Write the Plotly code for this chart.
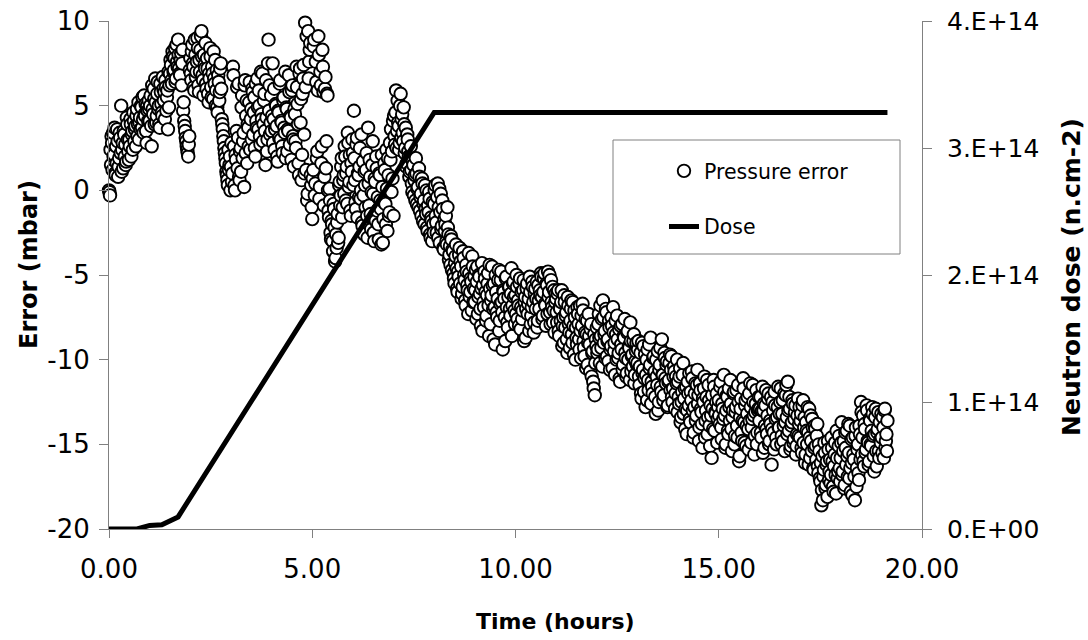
import plotly.graph_objects as go

FONT = "DejaVu Sans"

# ---- Pressure error (mbar): series A sampled at h + i*0.025 h ----
err_h00 = [0.0, -0.3, 1.5, 2.8, 3.4, 2.1, 1.0, 2.6, 3.6, 0.8, 1.9, 3.1, 5.0, 2.4, 1.3, 3.3, 2.7, 1.7, 3.9, 2.3,
           3.0, 4.2, 2.0, 3.5, 4.6, 2.9, 3.8, 4.4, 3.2, 5.2, 4.0, 3.6, 4.9, 5.5, 3.4, 4.5, 5.1, 2.8, 4.7, 5.3]
err_h01 = [4.1, 5.6, 2.6, 4.8, 6.0, 3.9, 5.2, 4.4, 6.4, 5.0, 3.7, 5.8, 4.6, 6.7, 5.3, 4.2, 6.1, 5.5, 3.6, 4.9,
           6.9, 7.4, 6.3, 7.9, 7.1, 8.4, 6.6, 7.6, 8.9, 7.2, 6.8, 8.1, 7.5, 4.7, 4.1, 3.5, 2.9, 2.4, 2.0, 3.2]
err_h02 = [7.8, 6.5, 8.6, 7.3, 5.9, 8.0, 7.0, 9.0, 6.2, 7.7, 8.3, 9.4, 6.8, 5.6, 7.4, 8.7, 6.0, 7.2, 5.2, 6.6,
           7.9, 5.5, 6.9, 8.2, 6.3, 5.0, 7.1, 4.6, 6.4, 5.8, 7.5, 4.2, 3.6, 2.9, 2.2, 1.6, 0.9, 0.3, 1.2, 2.0]
err_h03 = [1.4, 0.5, 7.3, 2.6, 0.0, 1.8, 6.1, 3.1, 0.8, 2.3, 1.1, 5.6, 2.9, 0.2, 6.5, 4.4, 1.6, 3.7, 5.2, 2.4,
           4.8, 6.0, 3.3, 5.5, 2.0, 4.1, 6.6, 3.6, 5.0, 2.7, 4.5, 6.9, 3.9, 5.7, 1.5, 4.3, 3.0, 8.9, 6.2, 4.0]
err_h04 = [3.5, 7.5, 4.2, 2.4, 5.1, 3.8, 1.7, 4.6, 6.3, 3.0, 4.0, 2.2, 5.5, 3.4, 1.9, 4.8, 3.6, 6.8, 2.7, 4.3,
           5.9, 3.2, 1.4, 4.5, 2.5, 6.1, 3.9, 0.9, 7.2, 5.4, 2.1, 6.6, 3.3, 9.9, 1.2, -0.6, 9.4, 7.6, 8.7, 0.3]
err_h05 = [-1.7, 1.2, 8.9, 0.4, 6.4, 2.3, 9.1, -0.5, 7.0, 1.6, 8.3, 5.8, 0.8, 6.7, 2.9, 5.6, -1.2, 0.1, -2.5, -1.8,
           -3.0, -0.8, -2.2, -4.0, -3.4, -1.4, -2.8, 0.5, -0.3, 1.9, -1.0, 0.9, 2.6, -0.6, 1.4, 3.4, 0.2, 2.1, -1.5, 1.1]
err_h06 = [2.2, 4.7, 0.6, -1.1, 3.1, 1.0, -0.4, 2.5, 0.0, -1.9, 1.7, -2.6, 0.3, 1.2, -1.5, 3.7, -0.9, 0.8, -2.3, 1.5,
           -0.2, -3.0, 0.5, 2.0, -1.2, -2.0, 1.0, -0.6, -3.2, 0.2, -1.7, 1.6, -0.8, 2.4, -2.4, 0.9, -1.3, 1.8, -0.1, 0.7]
err_h07 = [-1.5, 3.2, 4.6, 2.5, 5.3, 3.8, 2.8, 5.7, 4.2, 3.4, 4.9, 2.2, 3.7, 1.6, 3.0, 2.0, 1.1, 2.6, 0.4, 1.7,
           -0.3, 0.9, 1.9, -0.8, 0.2, 1.3, -1.2, -0.2, 0.7, -1.8, -0.6, 0.3, -1.4, -2.2, -0.9, -0.1, -2.6, -1.6, -3.0, -2.0]
err_h08 = [-0.8, 0.3, -1.9, -0.4, -2.8, 0.1, -1.3, -2.3, -0.6, -3.4, -1.7, -2.0, -3.0, -1.0, -2.6, -3.8, -4.4, -2.9, -3.5, -4.9,
           -5.5, -3.9, -4.6, -6.0, -5.1, -3.4, -4.2, -6.4, -5.7, -4.0, -5.3, -6.8, -4.8, -5.9, -3.7, -6.3, -5.2, -7.1, -4.5, -5.8]
err_h09 = [-6.6, -4.7, -5.4, -7.3, -5.0, -6.1, -8.0, -4.3, -5.6, -6.9, -5.2, -7.7, -6.2, -4.9, -8.6, -5.8, -6.5, -4.5, -7.0, -5.5,
           -9.1, -6.0, -7.5, -5.3, -8.3, -6.7, -4.8, -7.2, -5.9, -6.4, -8.9, -5.1, -7.8, -6.3, -5.7, -7.4, -4.6, -6.8, -5.4, -7.1]
err_h10 = [-6.2, -5.0, -7.6, -6.8, -5.5, -8.2, -6.0, -7.1, -5.3, -6.6, -8.7, -5.8, -7.3, -6.4, -5.1, -7.9, -6.9, -5.7, -8.4, -6.1,
           -7.0, -5.4, -7.7, -6.5, -5.9, -4.9, -6.3, -7.4, -5.2, -6.7, -8.0, -5.6, -4.8, -6.0, -7.2, -5.3, -6.9, -7.8, -5.9, -6.6]
err_h11 = [-6.4, -7.8, -5.9, -8.6, -7.0, -6.6, -9.2, -7.5, -6.2, -8.1, -7.2, -9.6, -6.8, -8.4, -7.7, -6.5, -9.0, -8.0, -7.1, -10.0,
           -8.7, -6.9, -7.9, -9.4, -8.3, -7.4, -6.7, -8.9, -9.8, -7.6, -8.5, -10.3, -7.3, -9.1, -8.2, -11.0, -9.5, -11.7, -12.1, -8.8]
err_h12 = [-8.1, -9.4, -7.3, -10.2, -8.6, -7.6, -6.5, -9.0, -8.3, -7.0, -9.8, -8.8, -7.7, -10.6, -9.2, -8.0, -6.9, -9.5, -10.9, -8.5,
           -7.4, -9.9, -8.2, -11.3, -9.1, -7.9, -10.3, -8.7, -9.6, -11.0, -8.4, -10.0, -9.3, -7.8, -10.7, -9.7, -8.9, -11.4, -10.1, -9.0]
err_h13 = [-10.2, -8.9, -11.5, -9.6, -12.3, -10.8, -9.2, -11.1, -12.8, -10.0, -9.4, -11.8, -10.5, -8.7, -11.3, -12.0, -9.8, -10.7, -13.2, -11.0,
           -9.5, -12.5, -10.3, -11.6, -8.8, -10.9, -12.1, -9.9, -11.4, -10.1, -12.7, -11.2, -9.7, -10.6, -12.2, -11.7, -10.4, -12.9, -11.0, -10.0]
err_h14 = [-11.3, -12.6, -10.5, -13.4, -11.9, -10.2, -12.3, -14.1, -11.6, -13.0, -12.0, -10.8, -13.7, -12.4, -11.1, -14.6, -12.8, -11.4, -13.3, -10.6,
           -12.1, -14.0, -11.8, -13.1, -15.2, -12.5, -11.0, -13.6, -12.2, -14.4, -11.5, -13.9, -12.7, -15.8, -12.9, -11.2, -14.2, -13.2, -12.0, -13.5]
err_h15 = [-12.4, -13.8, -11.3, -14.7, -12.9, -10.9, -13.3, -15.0, -12.1, -14.2, -11.7, -13.6, -12.6, -15.4, -13.0, -11.9, -14.5, -12.8, -13.9, -11.5,
           -16.0, -13.4, -12.3, -14.8, -11.1, -13.7, -12.7, -15.1, -13.2, -14.1, -12.0, -11.4, -14.9, -13.5, -12.5, -15.6, -13.1, -11.8, -14.3, -12.9]
err_h16 = [-13.6, -12.2, -14.6, -11.6, -13.0, -15.2, -12.7, -14.1, -13.3, -12.0, -14.8, -13.8, -16.2, -12.5, -14.3, -11.9, -13.5, -15.0, -12.8, -14.0,
           -13.2, -11.7, -14.5, -12.4, -13.9, -15.4, -12.1, -13.4, -11.3, -14.2, -12.9, -15.1, -13.7, -12.6, -14.7, -13.1, -15.6, -14.4, -12.3, -13.8]
err_h17 = [-14.6, -13.2, -15.5, -12.4, -14.0, -16.1, -13.7, -15.0, -14.3, -12.9, -15.8, -14.8, -13.5, -16.4, -15.2, -14.1, -15.9, -13.8, -16.7, -15.4,
           -17.2, -18.6, -15.7, -16.9, -14.9, -17.6, -16.2, -18.1, -15.3, -16.6, -17.3, -14.6, -16.0, -17.8, -15.6, -16.8, -14.2, -17.0, -15.1, -16.4]
err_h18 = [-15.8, -13.7, -16.6, -14.8, -17.4, -15.2, -14.2, -16.9, -15.5, -13.9, -17.8, -16.1, -14.6, -15.9, -18.3, -14.0, -16.4, -15.0, -17.1, -14.4,
           -12.5, -15.6, -13.3, -16.3, -14.1, -15.3, -13.0, -14.9, -16.0, -13.6, -15.1, -12.8, -14.5, -16.6, -13.4, -15.4, -14.3, -13.1, -15.8, -14.7]
err_h19 = [-13.2, -15.5, -14.0, -13.0, -15.2, -14.4, -13.6]

# ---- Pressure error (mbar): series B, the in-between samples at h + 0.0125 + i*0.025 h ----
errb_h00 = [-0.1, 2.4, 3.2, 1.2, 2.0, 3.7, 0.9, 1.6, 2.9, 1.4, 3.4, 2.2, 1.1, 2.8, 3.5, 2.0, 1.5, 4.3, 3.0, 1.8,
            2.6, 3.9, 3.3, 2.4, 4.1, 3.6, 2.6, 4.8, 3.9, 3.0, 4.3, 5.0, 3.7, 4.2, 5.6, 4.4, 3.5, 5.0, 4.1, 4.8]
errb_h01 = [5.0, 3.8, 6.2, 4.5, 5.4, 6.6, 4.0, 5.7, 4.8, 3.9, 6.3, 5.1, 4.4, 6.0, 5.8, 6.5, 4.7, 5.9, 7.0, 6.2,
            7.7, 6.5, 8.2, 7.0, 7.8, 6.4, 8.6, 7.3, 8.0, 6.9, 7.7, 6.2, 8.3, 5.2, 3.8, 3.1, 2.6, 2.2, 2.7, 7.1]
errb_h02 = [6.9, 8.2, 7.5, 6.1, 8.9, 6.7, 7.6, 8.4, 5.8, 7.0, 9.1, 7.9, 6.5, 8.0, 7.2, 6.3, 7.8, 5.7, 6.9, 8.4,
            6.1, 7.3, 5.4, 6.6, 7.7, 5.9, 4.9, 6.8, 5.3, 7.2, 6.0, 3.9, 3.2, 2.5, 1.9, 1.1, 0.6, 2.4, 1.5, 0.0]
errb_h03 = [2.8, 1.0, 6.8, 0.3, 2.1, 3.5, 1.3, 6.3, 0.6, 2.5, 4.9, 1.9, 3.4, 6.2, 2.2, 5.3, 3.9, 2.6, 6.4, 4.2,
            3.0, 5.8, 4.6, 2.5, 6.3, 3.7, 4.9, 5.9, 3.2, 7.0, 4.2, 2.9, 5.3, 3.5, 6.5, 2.3, 7.5, 4.7, 3.3, 5.6]
errb_h04 = [4.4, 2.8, 6.0, 3.6, 5.0, 2.0, 4.7, 3.1, 6.5, 4.1, 2.6, 5.3, 3.7, 7.0, 4.9, 2.3, 3.5, 5.8, 4.4, 1.8,
            6.2, 3.0, 4.8, 2.9, 7.3, 5.1, 1.6, 6.9, 4.0, 0.6, 5.7, 7.4, 1.0, 6.1, 9.1, -0.2, 6.6, 8.3, 0.9, -1.0]
errb_h05 = [0.7, 8.5, -0.3, 7.6, 1.9, 5.9, 8.0, 0.2, 6.2, 2.6, 7.3, -0.9, 6.0, 1.3, 5.7, 0.0, -1.6, -0.6, -2.9, -2.0,
            -3.6, -1.1, -4.2, -2.6, -1.9, -3.1, 0.3, -0.9, 1.4, -1.6, 0.6, -0.2, 2.0, 1.0, -0.8, 2.8, 0.5, -1.2, 1.6, 3.0]
errb_h06 = [0.3, 1.9, -0.7, 2.7, -1.6, 0.9, 1.4, -0.5, 3.3, -2.1, -0.3, 1.1, -1.0, 2.2, -2.8, 0.4, 1.8, -1.4, -0.1, 2.9,
            -2.5, 0.7, -1.8, 1.3, -0.4, -2.9, 0.9, -1.1, 2.1, -3.1, -0.7, 1.2, -2.0, 0.1, 1.9, -1.5, 2.8, 3.6, 2.3, 4.1]
errb_h07 = [4.4, 2.7, 5.9, 3.5, 4.0, 2.4, 5.0, 3.1, 4.5, 2.9, 3.9, 2.5, 1.4, 3.3, 2.3, 0.8, 2.0, 1.2, -0.1, 1.5,
            0.6, -0.6, 1.0, 0.1, -1.0, 0.8, -0.4, -1.5, 0.4, -0.8, -2.0, -1.1, 0.0, -2.4, -1.3, -0.5, -2.8, -1.8, -0.7, -2.5]
errb_h08 = [0.0, -1.5, -2.5, 0.4, -1.0, -3.1, -0.2, -2.1, -1.1, -3.5, -2.4, -1.5, -3.2, -2.2, -4.1, -3.3, -2.7, -4.7, -3.6, -5.2,
            -4.3, -3.2, -5.8, -4.8, -3.8, -5.5, -4.5, -6.1, -3.6, -5.0, -6.5, -4.4, -5.6, -7.3, -4.9, -6.0, -5.4, -3.9, -6.6, -5.1]
errb_h09 = [-5.9, -7.6, -4.5, -6.3, -5.1, -7.0, -5.8, -8.3, -6.6, -4.8, -6.0, -7.4, -5.5, -6.8, -4.4, -7.9, -6.2, -5.6, -8.8, -6.9,
            -5.0, -7.2, -6.4, -4.7, -7.7, -5.3, -6.6, -9.4, -6.0, -7.5, -5.2, -6.9, -8.1, -5.7, -7.0, -6.1, -8.6, -5.5, -6.3, -7.9]
errb_h10 = [-7.3, -5.7, -6.5, -8.0, -5.2, -6.9, -7.6, -5.9, -8.9, -6.3, -7.0, -5.5, -6.7, -8.3, -6.0, -7.4, -5.4, -6.6, -7.8, -5.8,
            -6.4, -8.1, -5.6, -7.0, -6.2, -5.1, -7.6, -6.0, -4.9, -6.8, -5.5, -7.3, -6.3, -5.0, -7.9, -6.6, -5.7, -7.1, -8.4, -6.1]
errb_h11 = [-7.2, -6.1, -8.3, -6.9, -7.7, -5.9, -8.0, -9.0, -6.6, -7.4, -8.8, -6.3, -7.9, -9.3, -7.0, -8.5, -6.6, -9.7, -7.5, -8.1,
            -9.1, -7.3, -8.8, -6.8, -9.9, -8.0, -7.1, -9.3, -8.4, -10.5, -7.7, -9.0, -8.6, -10.7, -7.9, -9.6, -11.3, -8.5, -10.2, -9.2]
errb_h12 = [-9.6, -7.9, -8.7, -6.8, -9.3, -10.4, -7.5, -8.5, -9.9, -7.2, -8.9, -10.1, -8.1, -9.4, -7.5, -10.5, -8.4, -9.0, -7.7, -10.0,
            -8.8, -9.6, -11.1, -8.0, -9.4, -10.6, -8.6, -7.6, -9.9, -10.8, -8.3, -9.2, -11.2, -8.9, -9.8, -10.4, -8.5, -10.9, -9.5, -10.3]
errb_h13 = [-9.4, -11.0, -10.4, -12.0, -9.0, -10.6, -11.9, -9.7, -10.9, -12.4, -11.2, -9.1, -10.3, -12.6, -11.6, -9.9, -10.8, -12.2, -10.0, -11.5,
            -13.0, -10.6, -9.3, -11.9, -10.9, -12.4, -9.6, -11.1, -10.3, -12.8, -11.3, -10.2, -11.8, -9.8, -12.5, -11.0, -10.7, -12.0, -11.4, -13.1]
errb_h14 = [-12.2, -11.0, -13.7, -12.5, -10.9, -13.2, -11.7, -12.9, -14.4, -11.3, -12.7, -13.5, -11.9, -10.7, -13.0, -14.3, -12.0, -13.6, -11.5, -12.6,
            -14.8, -11.4, -12.9, -13.8, -12.3, -11.7, -14.6, -13.0, -11.2, -13.4, -12.4, -15.1, -13.3, -12.1, -14.1, -11.6, -13.1, -12.5, -14.9, -12.8]
errb_h15 = [-13.3, -11.6, -14.0, -12.6, -13.5, -11.9, -15.2, -13.0, -12.2, -14.4, -12.8, -11.2, -14.1, -13.4, -12.0, -15.0, -13.1, -11.8, -14.6, -12.5,
            -15.7, -12.9, -14.3, -13.6, -11.7, -14.9, -12.4, -13.9, -12.2, -15.3, -13.6, -12.8, -14.0, -11.5, -13.3, -14.5, -12.6, -15.0, -13.0, -12.2]
errb_h16 = [-12.9, -14.3, -13.0, -15.5, -12.6, -13.9, -11.8, -14.4, -12.3, -15.0, -13.6, -12.2, -14.1, -13.0, -15.3, -12.7, -14.6, -13.4, -11.6, -14.0,
            -12.5, -15.0, -13.2, -14.8, -12.0, -13.7, -11.5, -14.4, -13.0, -12.2, -15.3, -13.9, -12.4, -14.9, -13.5, -12.7, -15.1, -13.3, -14.5, -12.8]
errb_h17 = [-13.6, -15.2, -12.7, -14.9, -13.4, -15.6, -14.2, -12.8, -16.2, -14.6, -13.3, -15.4, -14.0, -16.5, -13.9, -15.1, -14.5, -16.3, -15.0, -17.0,
            -16.1, -17.7, -18.3, -16.5, -15.5, -17.4, -16.0, -14.8, -17.1, -15.9, -16.8, -15.2, -17.5, -16.3, -14.9, -17.9, -15.8, -16.6, -14.5, -17.2]
errb_h18 = [-14.9, -16.8, -15.4, -17.6, -14.3, -16.2, -15.7, -13.8, -17.0, -16.4, -14.7, -18.0, -15.6, -16.9, -14.5, -17.5, -15.3, -16.7, -13.9, -15.9,
            -13.1, -14.6, -16.0, -13.8, -15.5, -12.7, -14.8, -16.2, -13.5, -15.0, -14.2, -13.2, -15.7, -14.4, -12.9, -16.3, -14.1, -15.4, -13.7, -14.9]
errb_h19 = [-14.6, -13.4, -15.8, -12.9, -14.8, -15.4]

series_a = [err_h00, err_h01, err_h02, err_h03, err_h04, err_h05, err_h06, err_h07, err_h08, err_h09,
            err_h10, err_h11, err_h12, err_h13, err_h14, err_h15, err_h16, err_h17, err_h18, err_h19]
series_b = [errb_h00, errb_h01, errb_h02, errb_h03, errb_h04, errb_h05, errb_h06, errb_h07, errb_h08, errb_h09,
            errb_h10, errb_h11, errb_h12, errb_h13, errb_h14, errb_h15, errb_h16, errb_h17, errb_h18, errb_h19]
sample_step_h = 0.025

# ---- Neutron dose (n.cm-2) ----
dose_time = [0.0, 0.69, 1.0, 1.3, 1.7, 8.0, 19.15]
dose_value = [0.0, 0.0, 0.028e14, 0.033e14, 0.095e14, 3.28e14, 3.28e14]

# ---- ticks ----
x_ticks = [0, 5, 10, 15, 20]
x_tick_text = ["0.00", "5.00", "10.00", "15.00", "20.00"]
y_ticks = [-20, -15, -10, -5, 0, 5, 10]
y_tick_text = ["-20", "-15", "-10", "-5", "0", "5", "10"]
y2_ticks = [0, 1e14, 2e14, 3e14, 4e14]
y2_tick_text = ["0.E+00", "1.E+14", "2.E+14", "3.E+14", "4.E+14"]

# interleave the two sample sets in time order
time_h = []
error_mbar = []
for h in range(len(series_a)):
    a_vals = series_a[h]
    b_vals = series_b[h]
    for i in range(max(len(a_vals), len(b_vals))):
        if i < len(a_vals):
            time_h.append(round(h + i * sample_step_h, 4))
            error_mbar.append(a_vals[i])
        if i < len(b_vals):
            time_h.append(round(h + (i + 0.5) * sample_step_h, 4))
            error_mbar.append(b_vals[i])

AXIS_GRAY = "#808080"

FIG_W, FIG_H = 1088, 640
M_L, M_R, M_T, M_B = 109, 166, 21, 111
PLOT_W = FIG_W - M_L - M_R   # 813
PLOT_H = FIG_H - M_T - M_B   # 508


def px_x(xw):
    """window pixel x -> paper fraction"""
    return (xw - M_L) / PLOT_W


def px_y(yw):
    """window pixel y -> paper fraction"""
    return (FIG_H - M_B - yw) / PLOT_H


fig = go.Figure()
fig.add_trace(go.Scatter(
    x=time_h, y=error_mbar, mode="markers", name="Pressure error", legendgroup="a",
    cliponaxis=False,
    marker=dict(symbol="circle", size=12.5, color="white", line=dict(color="black", width=1.9)),
))
fig.add_trace(go.Scatter(
    x=dose_time, y=dose_value, mode="lines", name="Dose", legendgroup="b", yaxis="y2",
    line=dict(color="black", width=5),
))

fig.update_layout(
    width=FIG_W, height=FIG_H,
    margin=dict(l=M_L, r=M_R, t=M_T, b=M_B, autoexpand=False),
    paper_bgcolor="white", plot_bgcolor="white",
    font=dict(family=FONT, color="black"),
    showlegend=True,
    legend=dict(x=px_x(664), y=px_y(151), xanchor="left", yanchor="top",
                bgcolor="rgba(0,0,0,0)", borderwidth=0,
                font=dict(family=FONT, size=20.5, color="black"),
                traceorder="grouped", tracegroupgap=26),
    xaxis=dict(range=[0, 20], tickvals=x_ticks, ticktext=x_tick_text,
               showline=True, linecolor=AXIS_GRAY, linewidth=1,
               ticks="outside", ticklen=8, tickcolor=AXIS_GRAY,
               showgrid=False, zeroline=False, automargin=False,
               ticklabeloverflow="allow",
               tickfont=dict(family=FONT, size=26, color="black"),
               ticklabelstandoff=9),
    yaxis=dict(range=[-20, 10], tickvals=y_ticks, ticktext=y_tick_text,
               showline=True, linecolor=AXIS_GRAY, linewidth=1,
               ticks="outside", ticklen=9, tickcolor=AXIS_GRAY,
               showgrid=False, zeroline=False, automargin=False,
               ticklabeloverflow="allow",
               tickfont=dict(family=FONT, size=26, color="black"),
               ticklabelstandoff=4),
    yaxis2=dict(range=[0, 4e14], tickvals=y2_ticks, ticktext=y2_tick_text,
                overlaying="y", side="right", anchor="x",
                showline=True, linecolor=AXIS_GRAY, linewidth=1,
                ticks="outside", ticklen=9, tickcolor=AXIS_GRAY,
                showgrid=False, zeroline=False, automargin=False,
                ticklabeloverflow="allow",
                tickfont=dict(family=FONT, size=25, color="black"),
                ticklabelstandoff=10),
    yaxis3=dict(range=[0, 4e14], tickvals=y2_ticks, showticklabels=False,
                overlaying="y", side="right", anchor="x",
                showline=False, ticks="inside", ticklen=9, tickcolor=AXIS_GRAY,
                showgrid=False, zeroline=False, automargin=False),
    shapes=[dict(type="rect", xref="paper", yref="paper",
                 x0=px_x(613), x1=px_x(900), y0=px_y(254), y1=px_y(140),
                 line=dict(color=AXIS_GRAY, width=1), fillcolor="white", layer="below")],
    annotations=[
        dict(text="<b>Time (hours)</b>", xref="paper", yref="paper",
             x=px_x(555), y=px_y(621), xanchor="center", yanchor="middle",
             showarrow=False, font=dict(family=FONT, size=22, color="black")),
        dict(text="<b>Error (mbar)</b>", xref="paper", yref="paper",
             x=px_x(29), y=px_y(265), xanchor="center", yanchor="middle",
             textangle=-90, showarrow=False, font=dict(family=FONT, size=24, color="black")),
        dict(text="<b>Neutron dose (n.cm-2)</b>", xref="paper", yref="paper",
             x=px_x(1071), y=px_y(277), xanchor="center", yanchor="middle",
             textangle=-90, showarrow=False, font=dict(family=FONT, size=25, color="black")),
    ],
)

# remove the browser's default 8 px body margin so the figure sits at the window origin
fig.write_html("out.html", config={"displayModeBar": False},
               post_script="document.body.style.margin='0';")
